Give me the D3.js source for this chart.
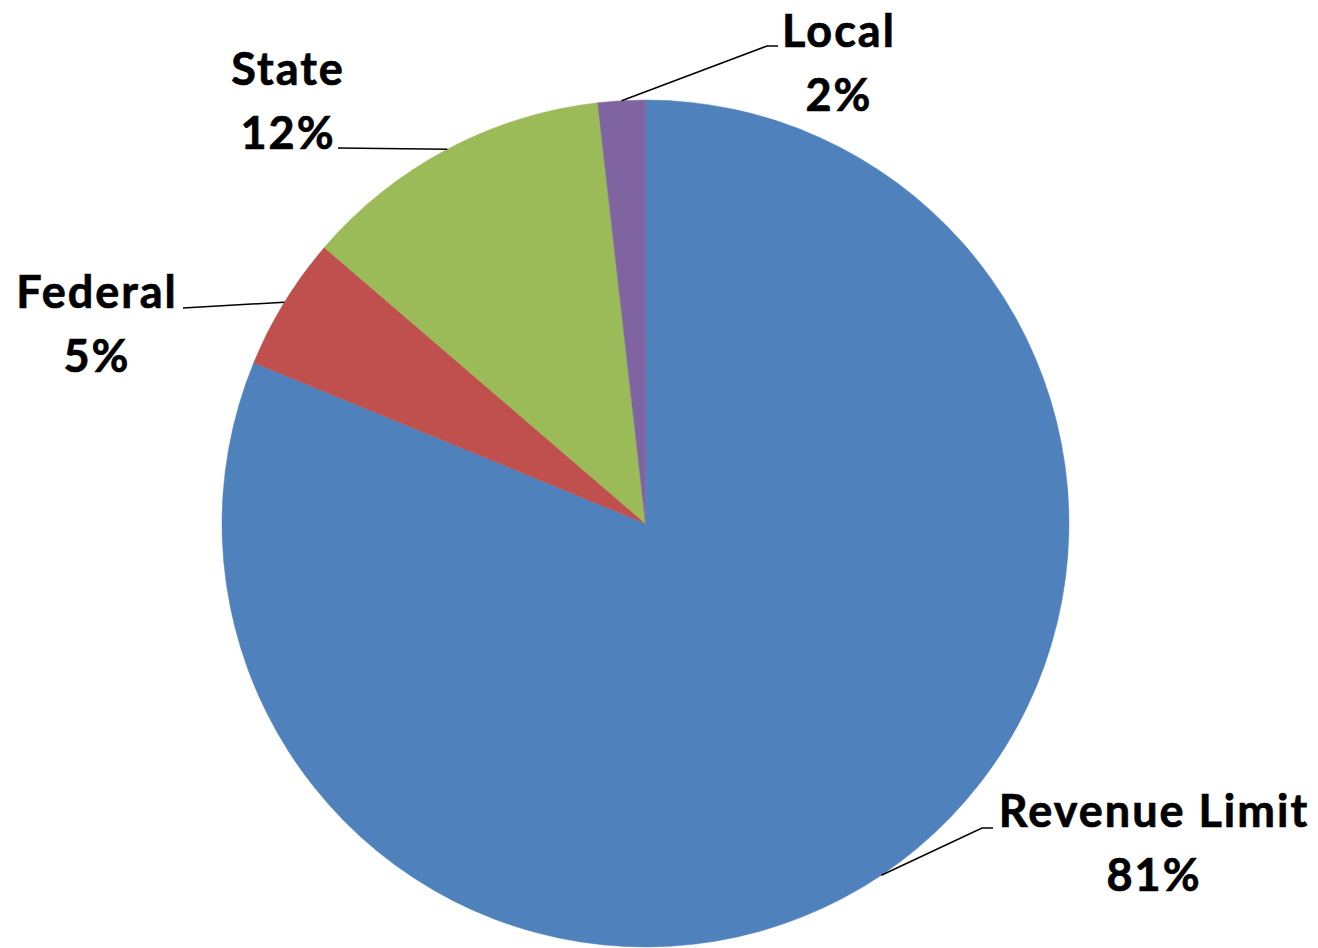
<!DOCTYPE html>
<html>
<head>
<meta charset="utf-8">
<script src="https://cdn.jsdelivr.net/npm/d3@7"></script>
<style>
	body { margin:0; background:#fff; }
	.lbl { font-family: Lato, "Open Sans", sans-serif; font-weight:bold; font-size:45px; letter-spacing:2px; fill:#000; stroke:#000; stroke-width:0.7px; }
</style>
</head>
<body>
<div class="c_pie"></div>
<script>

/*DATA
------------------------------------------------------
*/

const categories = ["Revenue Limit", "Federal", "State", "Local"];
const values = [81.2, 5.1, 11.9, 1.8];
const percentLabels = ["81%", "5%", "12%", "2%"];
const colors = ["#4F81BD", "#C0504D", "#9BBB59", "#8064A2"];

/*INITIATE
------------------------------------------------------
*/

const width = 1318;
const height = 948;
const cx = 645.5, cy = 523.5, radius = 423.5;

// where each label sits (text center x, first baseline y) and the elbow of its leader
const labelLayout = [
	{x:1154, y:827, elbow:[982,828], end:[993,828]},
	{x:97,   y:308, elbow:[183,308], end:[183,308]},
	{x:288,  y:85,  elbow:[338,148], end:[338,148]},
	{x:839,  y:47,  elbow:[767,46],  end:[778,46]}
];

let svg = d3.select(".c_pie")
	.append("svg")
	.attr("width", width)
	.attr("height", height);

const pie = d3.pie().sort(null).value(d => d);
const arcs = pie(values);

const arc = d3.arc().innerRadius(0).outerRadius(radius);

let g = svg.append("g")
	.attr("transform", "translate(" + cx + "," + cy + ")");

g.selectAll("path")
	.data(arcs)
	.enter()
	.append("path")
	.attr("d", arc)
	.attr("fill", (d, i) => colors[i])
	.attr("stroke", (d, i) => colors[i])
	.attr("stroke-width", 0.5);

/*LEADERS + LABELS
------------------------------------------------------
*/

arcs.forEach(function(d, i){
	const a = (d.startAngle + d.endAngle) / 2;
	const p0 = [cx + radius * Math.sin(a), cy - radius * Math.cos(a)];
	const L = labelLayout[i];
	svg.append("path")
		.attr("d", d3.line()([p0, L.elbow, L.end]))
		.attr("fill", "none")
		.attr("stroke", "#000")
		.attr("stroke-width", 1.5);

	let t = svg.append("text")
		.attr("class", "lbl")
		.attr("text-anchor", "middle")
		.attr("x", L.x)
		.attr("y", L.y);
	t.append("tspan").attr("x", L.x).text(categories[i]);
	t.append("tspan").attr("x", L.x).attr("dy", 64).text(percentLabels[i]);
});

</script>
</body>
</html>
